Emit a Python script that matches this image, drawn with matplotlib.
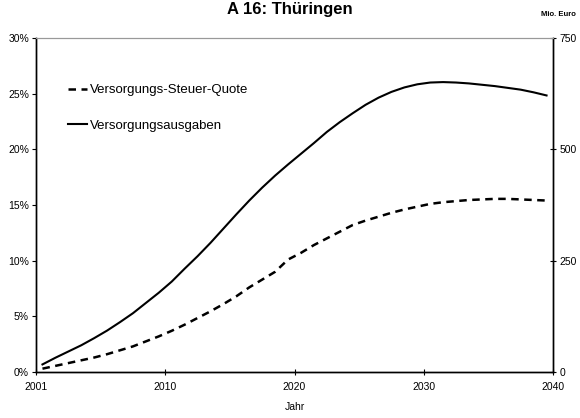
import numpy as np
import matplotlib
matplotlib.use("Agg")
import matplotlib.pyplot as plt

plt.rcParams["font.family"] = ["Liberation Sans", "DejaVu Sans"]

# Daten
jahre = np.arange(2001, 2041)
ausgaben = [17, 32, 46, 60, 76, 93, 112, 132, 155, 178,
            203, 232, 260, 290, 322, 354, 385, 414, 441, 466,
            490, 514, 539, 561, 581, 600, 616, 629, 639, 646,
            650, 651, 650, 648, 645, 642, 638, 634, 628, 621]
quote = [0.3, 0.55, 0.8, 1.05, 1.3, 1.6, 1.95, 2.3, 2.75, 3.2,
         3.7, 4.25, 4.85, 5.45, 6.1, 6.8, 7.6, 8.3, 9.0, 10.1,
         10.7, 11.4, 12.0, 12.6, 13.2, 13.6, 13.95, 14.3, 14.6, 14.85,
         15.1, 15.25, 15.35, 15.45, 15.5, 15.55, 15.55, 15.5, 15.45, 15.4]
xtick_labels = ["2001", "2010", "2020", "2030", "2040"]

fig = plt.figure(figsize=(5.8, 4.18), dpi=100)
ax = fig.add_axes([36 / 580, 1 - 372 / 418, 517 / 580, 334 / 418])
ax2 = ax.twinx()

l1, = ax.plot(jahre, quote, color="black", lw=1.8, ls=(0, (3, 2.2)),
              label="Versorgungs-Steuer-Quote")
l2, = ax2.plot(jahre, ausgaben, color="black", lw=1.5,
               label="Versorgungsausgaben")

ax.set_xlim(2000.5, 2040.5)
ax.set_ylim(0, 30)
ax2.set_ylim(0, 750)
ax.set_xticks(np.linspace(2000.5, 2040.5, 5))
ax.set_xticklabels(xtick_labels)
ax.set_yticks(range(0, 31, 5))
ax.set_yticklabels([f"{v}%" for v in range(0, 31, 5)])
ax2.set_yticks([0, 250, 500, 750])

for a in (ax, ax2):
    a.spines["top"].set_color("#999999")
    a.spines["left"].set_linewidth(1.0)
    a.spines["bottom"].set_linewidth(1.0)
    a.spines["right"].set_linewidth(1.0)
ax.tick_params(axis="y", direction="out", length=3, labelsize=7.5, pad=2)
ax.tick_params(axis="x", direction="inout", length=5, labelsize=7.5, pad=5)
ax2.tick_params(axis="y", direction="inout", length=5, labelsize=7.5, pad=2)

ax.set_xlabel("Jahr", fontsize=7.5, labelpad=7)

leg = ax.legend(handles=[l1, l2], loc="upper left", bbox_to_anchor=(0.038, 0.898),
                frameon=False, fontsize=9.5, handlelength=1.5, handletextpad=0.2,
                labelspacing=1.75)

fig.text(0.5, 1 - 2 / 418, "A 16: Thüringen", ha="center", va="top",
         fontsize=12, fontweight="bold")
fig.text(0.993, 1 - 14 / 418, "Mio. Euro", ha="right", va="center",
         fontsize=5.5, fontweight="bold")

fig.savefig("out.png", dpi=100)
